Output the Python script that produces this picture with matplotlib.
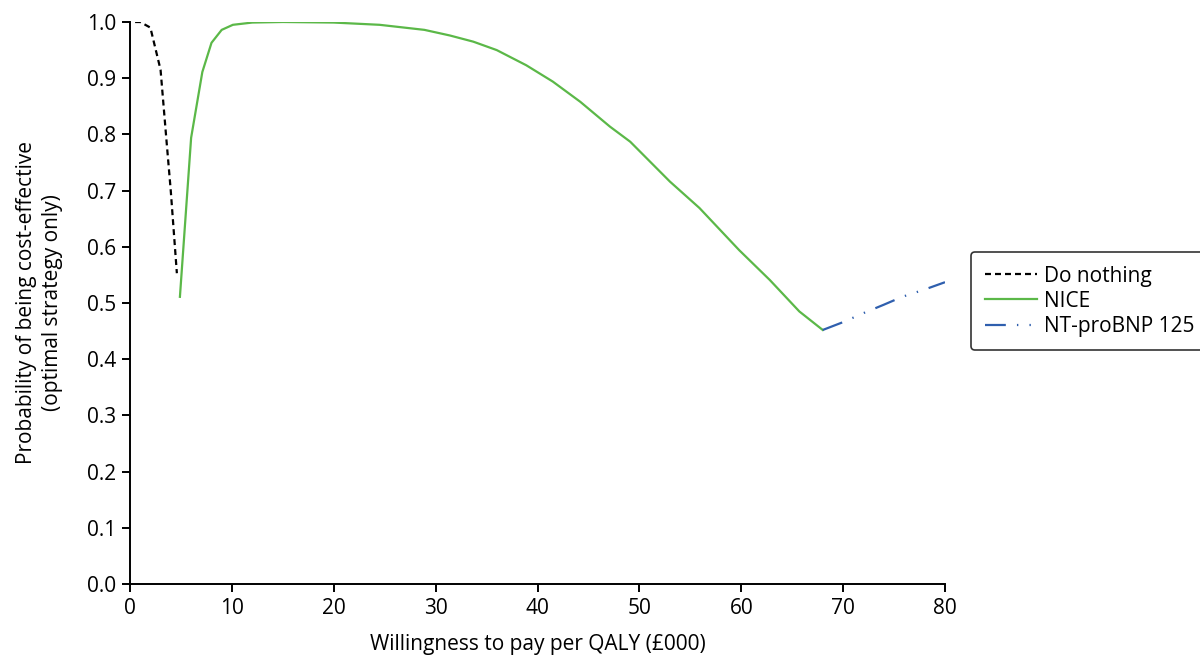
import matplotlib
matplotlib.use("Agg")
import matplotlib.pyplot as plt

plt.rcParams['font.family'] = ['Open Sans', 'DejaVu Sans']
plt.rcParams['lines.scale_dashes'] = False

# willingness to pay (£000) and probability of being cost-effective
wtp_nothing = [0.5, 1, 2, 3, 3.6, 4.0, 4.6]
p_nothing = [1.0, 1.0, 0.99, 0.915, 0.785, 0.70, 0.553]

wtp_nice = [4.9, 6.0, 7.1, 8.0, 9.0, 10.1, 12, 15, 20, 24.5, 28.9, 31.4, 33.7, 36.0,
            38.9, 41.5, 44.2, 47.1, 49.1, 53.0, 55.9, 59.8, 62.8, 65.7, 68.0]
p_nice = [0.511, 0.794, 0.911, 0.963, 0.986, 0.995, 0.999, 1.0, 0.999, 0.995, 0.986,
          0.976, 0.965, 0.950, 0.923, 0.894, 0.858, 0.814, 0.787, 0.716, 0.669, 0.594,
          0.541, 0.485, 0.452]

wtp_bnp = [68.0, 70, 72, 74, 75.8, 78, 80]
p_bnp = [0.452, 0.466, 0.482, 0.497, 0.511, 0.524, 0.537]

fig = plt.figure(figsize=(12, 6.55), dpi=100)
ax = fig.add_axes([130/1200, 71/655, 815/1200, 562/655])

ax.plot(wtp_nothing, p_nothing, color='black', lw=1.6, linestyle=(0, (4.3, 2.9)), label='Do nothing')
ax.plot(wtp_nice, p_nice, color='#5bb848', lw=1.6, label='NICE')
ax.plot(wtp_bnp, p_bnp, color='#2f5fae', lw=1.6,
        linestyle=(0, (15, 8, 1, 8, 1, 8)), label='NT-proBNP 125')

ax.set_xlim(0, 80)
ax.set_ylim(0, 1.0)
ax.set_xticks(range(0, 81, 10))
ax.set_yticks([i / 10 for i in range(11)])
ax.set_yticklabels([f'{i/10:.1f}' for i in range(11)])
ax.spines['top'].set_visible(False)
ax.spines['right'].set_visible(False)
ax.spines['left'].set_linewidth(1.4)
ax.spines['bottom'].set_linewidth(1.4)
ax.tick_params(direction='out', length=6, width=1.4, labelsize=15, pad=4)

ax.set_xlabel('Willingness to pay per QALY (£000)', fontsize=15, labelpad=11)
ax.set_ylabel('Probability of being cost-effective\n(optimal strategy only)', fontsize=15,
              labelpad=17, linespacing=1.35)

leg = fig.legend(loc='upper left', bbox_to_anchor=(971/1200, 1 - 252/655), fontsize=15,
                 frameon=True, fancybox=True, edgecolor='black', handlelength=2.5,
                 labelspacing=0.2, borderpad=0.65, handletextpad=0.35, borderaxespad=0)
leg.get_frame().set_linewidth(1.2)

fig.savefig('out.png', dpi=100)
